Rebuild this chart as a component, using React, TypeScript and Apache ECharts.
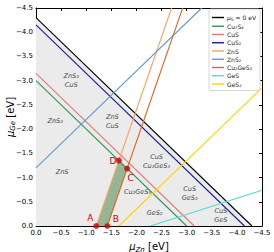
import React, { useEffect, useRef } from "react";
import * as echarts from "echarts";

// Stability-limit lines (μZn, μGe) endpoints
const muS0 = [[0, -4.3], [-4.3, 0]];
const cu7s4 = [[0, -3.0], [-3.0, 0]];
const cus = [[0, -3.15], [-3.15, 0]];
const cus2 = [[0, -4.15], [-4.15, 0]];
const zns = [[-1.2, 0], [-2.7, -4.5]];
const zns2 = [[0, -1.2], [-3.3, -4.5]];
const cu2ges3 = [[-1.42, 0], [-2.92, -4.5]];
const ges = [[-2.28, 0], [-4.5, -0.74]];
const ges2 = [[-1.65, 0], [-4.5, -2.85]];

const grayRegion = [[0, 0], [0, -4.3], [-4.3, 0]];
const greenRegion = [[-1.2, 0], [-1.42, 0], [-1.815, -1.185], [-1.65, -1.35]];

const pointNames = ["A", "B", "C", "D"];
const pointValues = [[-1.2, 0], [-1.42, 0], [-1.815, -1.185], [-1.65, -1.35]];

const regionTexts = [
  "ZnS₂\nCuS",
  "ZnS₂",
  "ZnS\nCuS",
  "ZnS",
  "CuS\nCu₂GeS₃",
  "Cu₂GeS₃",
  "CuS\nGeS₂",
  "GeS₂",
  "CuS\nGeS",
];
const regionSpots = [
  [-0.7, -3.01],
  [-0.38, -2.17],
  [-1.52, -2.16],
  [-0.52, -1.12],
  [-2.4, -1.34],
  [-2.02, -0.7],
  [-3.06, -0.67],
  [-2.36, -0.27],
  [-3.68, -0.21],
];

const seriesNames = ["μS = 0 eV", "Cu₇S₄", "CuS", "CuS₂", "ZnS", "ZnS₂", "Cu₂GeS₃", "GeS", "GeS₂"];
const seriesData = [muS0, cu7s4, cus, cus2, zns, zns2, cu2ges3, ges, ges2];
const seriesColors = ["#000000", "#2a9a55", "#e47878", "#1c1c96", "#f7a35c", "#5f9bd3", "#dd6a1f", "#4fdcd4", "#ffd400"];

const FONT = "DejaVu Sans";

const fmt = (v: number) => {
  const r = Math.round(v * 10) / 10;
  if (Math.abs(r) < 1e-9) return "0.0";
  return "\u2212" + Math.abs(r).toFixed(1);
};

export default function App() {
  const ref = useRef<HTMLDivElement>(null);
  useEffect(() => {
    if (!ref.current) return;
    const chart = echarts.init(ref.current, undefined, { renderer: "svg" });
    const polySeries = (pts: number[][], fill: string, z: number) => ({
      type: "custom",
      silent: true,
      z,
      data: [[pts[0][0], pts[0][1]]],
      renderItem: (_p: any, api: any) => ({
        type: "polygon",
        shape: { points: pts.map((p) => api.coord(p)) },
        style: { fill, stroke: "none" },
      }),
    });
    const axisCommon = {
      type: "value",
      min: -4.5,
      max: 0,
      interval: 0.5,
      inverse: true,
      splitLine: { show: false },
      axisLine: { show: true, onZero: false, lineStyle: { color: "#000", width: 1 } },
      axisTick: { show: true, inside: true, length: 3, lineStyle: { color: "#000" } },
    };
    const nameRich = {
      i: { fontSize: 10, fontStyle: "italic", fontFamily: FONT, color: "#000" },
      s: { fontSize: 7, fontStyle: "italic", fontFamily: FONT, color: "#000", padding: [6, 0, 0, 0] },
      n: { fontSize: 10, fontFamily: FONT, color: "#000" },
    };
    const nameRichG = {
      i: { fontSize: 10, fontStyle: "italic", fontFamily: FONT, fill: "#000" },
      s: { fontSize: 7, fontStyle: "italic", fontFamily: FONT, fill: "#000", padding: [6, 0, 0, 0] },
      n: { fontSize: 10, fontFamily: FONT, fill: "#000" },
    };
    const letterOffsets: Record<string, number[]> = { A: [-6, -8], B: [8.5, -7], C: [3.5, 9.5], D: [-6, 0.5] };
    chart.setOption({
      animation: false,
      grid: { left: 36, right: 12, top: 8, bottom: 26, containLabel: false, outerBoundsMode: "none" },
      graphic: [
        {
          type: "text",
          x: 10,
          y: 117,
          rotation: Math.PI / 2,
          silent: true,
          style: {
            text: "{i|μ}{s|Ge}{n| [eV]}",
            rich: nameRichG,
            align: "center",
            verticalAlign: "middle",
            fill: "#000",
          },
        },
      ],
      xAxis: [
        {
          ...axisCommon,
          position: "bottom",
          axisLabel: { formatter: fmt, fontSize: 7, color: "#000", fontFamily: FONT, margin: 3 },
          name: "{i|μ}{s|Zn}{n| [eV]}",
          nameLocation: "middle",
          nameGap: 14,
          nameTextStyle: { rich: nameRich },
        },
        { ...axisCommon, position: "top", axisLabel: { show: false } },
      ],
      yAxis: [
        {
          ...axisCommon,
          position: "left",
          axisLabel: { formatter: fmt, fontSize: 7, color: "#000", fontFamily: FONT, margin: 3 },
        },
        { ...axisCommon, position: "right", axisLabel: { show: false } },
      ],
      legend: {
        data: seriesNames,
        left: 209,
        top: 9,
        orient: "vertical",
        icon: "rect",
        padding: [5, 4, 3, 3],
        itemWidth: 12,
        itemHeight: 1.4,
        itemGap: 1.25,
        backgroundColor: "#fff",
        borderColor: "#cccccc",
        borderWidth: 0.8,
        borderRadius: 2,
        formatter: (name: string) =>
          name === seriesNames[0] ? "{a|μ}{b|S}{c| = 0 eV}" : name,
        textStyle: {
          fontSize: 6,
          color: "#222",
          fontFamily: FONT,
          lineHeight: 7,
          padding: [0, 0, 0, -2],
          rich: {
            a: { fontSize: 6, fontStyle: "italic", fontFamily: FONT, color: "#222" },
            b: { fontSize: 4.5, fontFamily: FONT, color: "#222", padding: [3, 0, 0, 0] },
            c: { fontSize: 6, fontFamily: FONT, color: "#222" },
          },
        },
      },
      series: [
        polySeries(grayRegion, "#ebebeb", 1),
        polySeries(greenRegion, "#94b694", 2),
        ...seriesNames.map((name, i) => ({
          type: "line",
          name,
          data: seriesData[i],
          symbol: "none",
          z: 3,
          lineStyle: { color: seriesColors[i], width: 1.1 },
          itemStyle: { color: seriesColors[i] },
        })),
        {
          type: "custom",
          silent: true,
          z: 1.5,
          data: regionSpots,
          renderItem: (params: any, api: any) => {
            const i = params.dataIndex;
            const [x, y] = api.coord(regionSpots[i]);
            return {
              type: "text",
              x,
              y,
              style: {
                text: regionTexts[i],
                textAlign: "center",
                textVerticalAlign: "middle",
                fontSize: 6.5,
                fontStyle: "italic",
                fontFamily: FONT,
                lineHeight: 9,
                fill: "#444",
              },
            };
          },
        },
        {
          type: "scatter",
          silent: true,
          z: 5,
          symbolSize: 6,
          itemStyle: { color: "#d40000" },
          data: pointValues,
        },
        {
          type: "custom",
          silent: true,
          z: 6,
          data: pointValues,
          renderItem: (params: any, api: any) => {
            const i = params.dataIndex;
            const [x, y] = api.coord(pointValues[i]);
            const off = letterOffsets[pointNames[i]];
            return {
              type: "text",
              x: x + off[0],
              y: y + off[1],
              style: {
                text: pointNames[i],
                textAlign: "center",
                textVerticalAlign: "middle",
                fontSize: 9,
                fontFamily: FONT,
                fill: "#d40000",
              },
            };
          },
        },
      ],
    });
    return () => chart.dispose();
  }, []);
  return <div ref={ref} style={{ position: "absolute", left: 0, top: 0, width: 274, height: 252 }} />;
}
